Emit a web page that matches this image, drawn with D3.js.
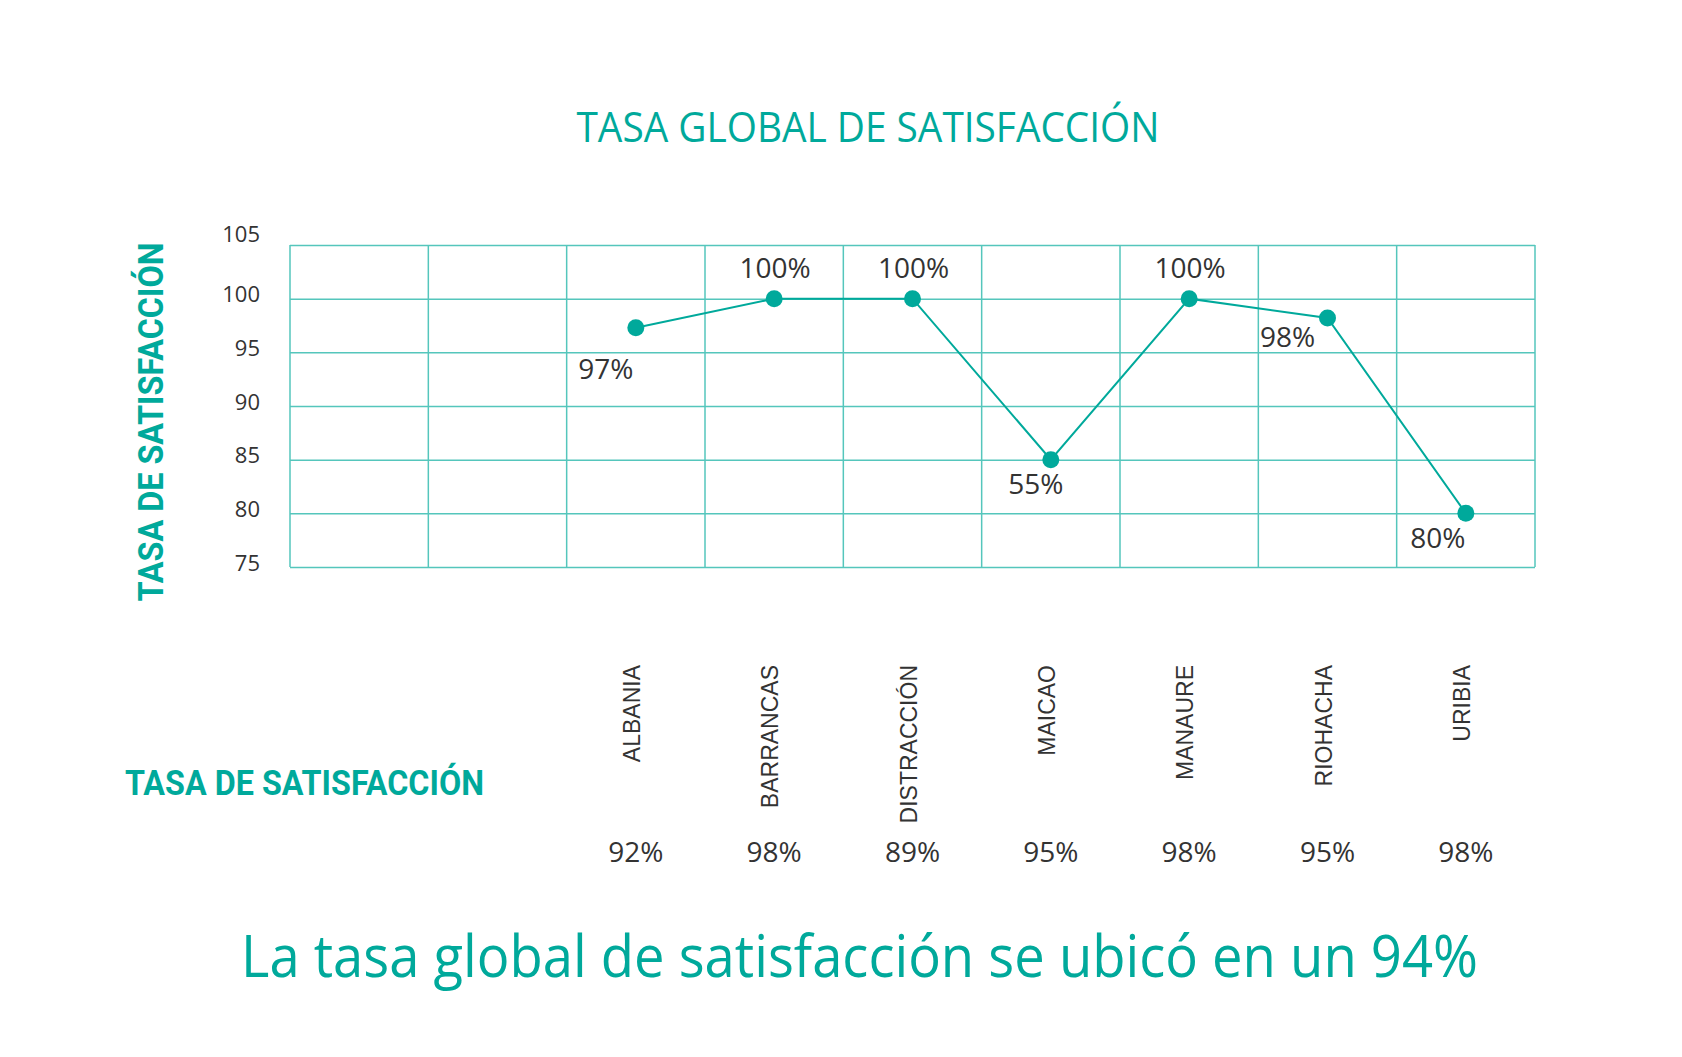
<!DOCTYPE html>
<html>
<head>
<meta charset="utf-8">
<script src="https://cdn.jsdelivr.net/npm/d3@7"></script>
<style>
  body { margin: 0; background: #fff; }
</style>
</head>
<body>
<div id="chart"></div>
<script>
// data
var categories = ["ALBANIA", "BARRANCAS", "DISTRACCIÓN", "MAICAO", "MANAURE", "RIOHACHA", "URIBIA"];
var emptySlots = ["_1", "_2"]; // two empty columns on the left of the grid
var pointValues = [97.3, 100, 100, 85, 100, 98.2, 80];
var pointLabels = ["97%", "100%", "100%", "55%", "100%", "98%", "80%"];
var rowLabels = ["92%", "98%", "89%", "95%", "98%", "95%", "98%"];
var yTicks = [75, 80, 85, 90, 95, 100, 105];

var width = 1682,
    height = 1057;

var teal = "#00a99b",
    grid = "#55c6bc",
    dark = "#333333";

var svg = d3.select("#chart")
    .append("svg")
    .attr("width", width)
    .attr("height", height)
    .style("font-family", "'Open Sans', sans-serif");

svg.append("rect").attr("width", width).attr("height", height).attr("fill", "#fff");

// plot area
var plot = { left: 290, right: 1535, top: 245, bottom: 567 };

var x = d3.scaleBand()
    .domain(emptySlots.concat(categories))
    .range([plot.left, plot.right])
    .padding(0);

var y = d3.scaleLinear()
    .domain([75, 105])
    .range([plot.bottom, plot.top]);

// horizontal gridlines + tick labels
var yAxis = svg.append("g")
    .attr("transform", "translate(" + plot.left + ",0)")
    .call(d3.axisLeft(y)
        .tickValues(yTicks)
        .tickSize(-(plot.right - plot.left))
        .tickPadding(30));
yAxis.select(".domain").remove();
yAxis.selectAll("line").attr("stroke", grid).attr("stroke-width", 1.5);
yAxis.selectAll("text")
    .attr("fill", dark)
    .attr("dy", function (d) { return d === 105 ? "-0.15em" : "0.15em"; })
    .style("font-size", "22px")
    .style("font-family", "'Open Sans', sans-serif");

// vertical gridlines at column boundaries
var bounds = x.domain().map(function (d) { return x(d); }).concat([plot.right]);
svg.append("g")
    .selectAll("line")
    .data(bounds)
    .enter()
    .append("line")
    .attr("x1", function (d) { return d; })
    .attr("x2", function (d) { return d; })
    .attr("y1", plot.top)
    .attr("y2", plot.bottom)
    .attr("stroke", grid)
    .attr("stroke-width", 1.5);

var cx = function (i) { return x(categories[i]) + x.bandwidth() / 2; };

// line
var line = d3.line()
    .x(function (d, i) { return cx(i); })
    .y(function (d) { return y(d); });

svg.append("path")
    .datum(pointValues)
    .attr("d", line)
    .attr("fill", "none")
    .attr("stroke", teal)
    .attr("stroke-width", 2);

// dots
svg.selectAll("dots")
    .data(pointValues)
    .enter()
    .append("circle")
    .attr("cx", function (d, i) { return cx(i); })
    .attr("cy", function (d) { return y(d); })
    .attr("r", 8.5)
    .attr("fill", teal);

// point labels: above for the top values, below-left otherwise
var nudge = { ALBANIA: [-2, 19], MAICAO: [13, 2], RIOHACHA: [-12, -3], URIBIA: [0, 3] };
svg.selectAll("plabels")
    .data(pointValues)
    .enter()
    .append("text")
    .attr("x", function (d, i) {
        var n = nudge[categories[i]] || [0, 0];
        return cx(i) + (d >= 100 ? 1 : -28) + n[0];
    })
    .attr("y", function (d, i) {
        var n = nudge[categories[i]] || [0, 0];
        return y(d) + (d >= 100 ? -21 : 32) + n[1];
    })
    .attr("text-anchor", "middle")
    .attr("fill", dark)
    .style("font-size", "28px")
    .text(function (d, i) { return pointLabels[i]; });

// category names, rotated
svg.selectAll("cats")
    .data(categories)
    .enter()
    .append("text")
    .attr("transform", function (d, i) { return "translate(" + (cx(i) - 4) + ",665) rotate(-90)"; })
    .attr("text-anchor", "end")
    .attr("dy", "0.36em")
    .attr("fill", dark)
    .style("font-family", "'Liberation Sans', Arial, sans-serif")
    .style("font-size", "23px")
    .text(function (d) { return d; });

// bottom row of rates
svg.selectAll("rowlabels")
    .data(rowLabels)
    .enter()
    .append("text")
    .attr("x", function (d, i) { return cx(i); })
    .attr("y", 862)
    .attr("text-anchor", "middle")
    .attr("fill", dark)
    .style("font-size", "28px")
    .text(function (d) { return d; });

// titles
svg.append("text")
    .attr("x", 868)
    .attr("y", 142)
    .attr("text-anchor", "middle")
    .attr("fill", teal)
    .attr("textLength", 583)
    .attr("lengthAdjust", "spacingAndGlyphs")
    .style("font-size", "42px")
    .text("TASA GLOBAL DE SATISFACCIÓN");

svg.append("text")
    .attr("transform", "translate(163,422) rotate(-90)")
    .attr("text-anchor", "middle")
    .attr("fill", teal)
    .attr("textLength", 359)
    .attr("lengthAdjust", "spacingAndGlyphs")
    .style("font-family", "Roboto, sans-serif")
    .style("font-weight", 700)
    .style("font-size", "35px")
    .text("TASA DE SATISFACCIÓN");

svg.append("text")
    .attr("x", 125)
    .attr("y", 795)
    .attr("fill", teal)
    .attr("textLength", 359)
    .attr("lengthAdjust", "spacingAndGlyphs")
    .style("font-family", "Roboto, sans-serif")
    .style("font-weight", 700)
    .style("font-size", "35px")
    .text("TASA DE SATISFACCIÓN");

svg.append("text")
    .attr("x", 241)
    .attr("y", 977)
    .attr("fill", teal)
    .attr("textLength", 1237)
    .attr("lengthAdjust", "spacingAndGlyphs")
    .style("font-size", "59px")
    .text("La tasa global de satisfacción se ubicó en un 94%");
</script>
</body>
</html>
